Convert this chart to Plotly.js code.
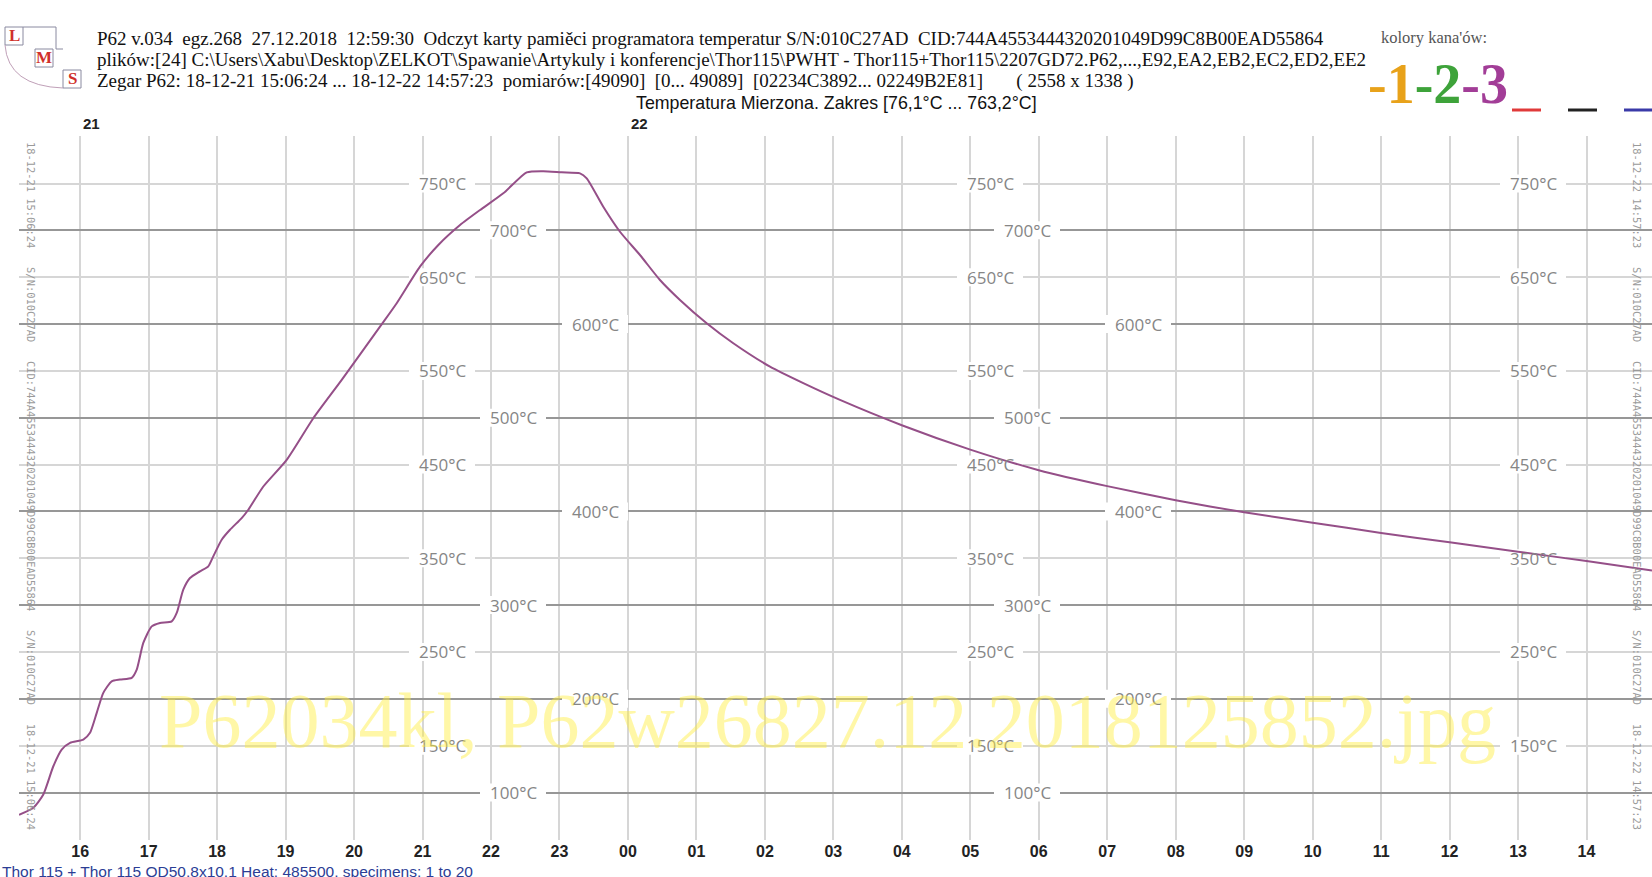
<!DOCTYPE html>
<html><head><meta charset="utf-8">
<script src="https://cdn.plot.ly/plotly-3.0.1.min.js"></script>
<style>html,body{margin:0;padding:0;background:#fff;overflow:hidden}#chart{width:1652px;height:877px}</style>
</head><body><div id="chart"></div>
<script>
// ---- data (hours since 18-12-21 00:00, temperature °C) ----
const timeH = [15.107,15.316,15.462,15.608,15.730,15.852,16.046,16.144,16.242,16.338,16.461,16.582,16.753,16.826,16.922,17.045,17.166,17.337,17.410,17.506,17.604,17.750,17.871,17.944,18.067,18.188,18.359,18.456,18.675,19.016,19.405,19.820,20.379,20.623,20.963,21.231,21.548,21.840,22.180,22.522,22.764,23.033,23.300,23.398,23.640,23.884,24.176,24.468,24.760,25.150,25.539,26.075,26.561,27.097,28.0,29.0,30.0,31.0,32.0,33.0,34.0,35.0,36.0,37.0,38.0,38.956];
const tempC = [76.1,83.7,97.9,128.0,145.8,153.0,156.5,163.7,185.0,206.3,218.7,220.5,222.3,231.1,259.6,277.3,280.9,282.6,291.6,316.5,328.9,336.0,341.3,352.0,369.8,380.4,392.9,401.8,426.6,455.1,499.5,540.4,597.2,622.2,661.2,684.4,705.7,721.7,739.5,761.9,763.2,761.9,760.8,755.5,725.2,698.5,673.7,647.0,625.7,600.8,579.5,554.5,536.9,519.0,492,466,444,427,412,399,388,377,367,357,347,337];
const hourVals = [16,17,18,19,20,21,22,23,24,25,26,27,28,29,30,31,32,33,34,35,36,37,38];
const hourLabels = ['16','17','18','19','20','21','22','23','00','01','02','03','04','05','06','07','08','09','10','11','12','13','14'];
const dayVals = [16,24];
const dayLabels = ['21','22'];
const labelTemps = [750,700,650,600,550,500,450,400,350,300,250,200,150,100];
const headerLines = [
 'P62 v.034  egz.268  27.12.2018  12:59:30  Odczyt karty pamiěci programatora temperatur S/N:010C27AD  CID:744A4553444320201049D99C8B00EAD55864',
 'plików:[24] C:\\Users\\Xabu\\Desktop\\ZELKOT\\Spawanie\\Artykuly i konferencje\\Thor115\\PWHT - Thor115+Thor115\\2207GD72.P62,...,E92,EA2,EB2,EC2,ED2,EE2',
 'Zegar P62: 18-12-21 15:06:24 ... 18-12-22 14:57:23  pomiarów:[49090]  [0... 49089]  [02234C3892... 02249B2E81]       ( 2558 x 1338 )'
];
const subTitle = 'Temperatura Mierzona. Zakres [76,1°C ... 763,2°C]';
const footer = 'Thor 115 + Thor 115 OD50,8x10,1 Heat: 485500, specimens: 1 to 20';
const watermark = 'P62034kl, P62w26827.12.2018125852.jpg';
const sideLeft = '18-12-21 15:06:24   S/N:010C27AD   CID:744A4553444320201049D99C8B00EAD55864   S/N:010C27AD   18-12-21 15:06:24';
const sideRight = '18-12-22 14:57:23   S/N:010C27AD   CID:744A4553444320201049D99C8B00EAD55864   S/N:010C27AD   18-12-22 14:57:23';
const channelLabels = ['-1','-2','-3'];
const channelColors = ['#e8a21a','#3ea33a','#a23d97'];
const lineColors = ['#e03a3a','#222222','#3a3aa8'];

// ---- geometry helpers ----
const W=1652,H=877,ML=19,MR=0,MT=136,MB=37;
const PW=W-ML-MR, PH=H-MT-MB;
const X0=15.1067, X1=38.9564;
const px=p=>(p-ML)/PW, py=p=>(H-MB-p)/PH;
const hx=p=>X0+(p-ML)/PW*(X1-X0);

function labelCols(t){
  if (t%100===50) return [442,990,1533];
  if ((t/100)%2===1) return [513,1027];
  return [595,1138];
}

const annotations=[], shapes=[];
const gridFont={family:'Open Sans, Noto Sans, sans-serif',size:17,color:'#868686'};
labelTemps.forEach(t=>{
  labelCols(t).forEach(c=>{
    const xv=hx(c);
    shapes.push({type:'rect',layer:'between',xref:'x',yref:'y',xsizemode:'pixel',ysizemode:'pixel',
      xanchor:xv,yanchor:t,x0:-33,x1:33,y0:-9,y1:9,fillcolor:'#ffffff',line:{width:0}});
    annotations.push({xref:'x',yref:'y',x:xv,y:t,text:t+'°C',showarrow:false,font:gridFont,xanchor:'center',yanchor:'middle'});
  });
});
dayVals.forEach((d,i)=>annotations.push({xref:'x',yref:'paper',x:d,y:py(124),text:dayLabels[i],showarrow:false,
  xanchor:'left',yanchor:'middle',xshift:1,font:{family:'Liberation Sans, Arial',size:15,color:'#222',weight:'bold'}}));
headerLines.forEach((s,i)=>annotations.push({xref:'paper',yref:'paper',x:px(95),y:py(38+i*21.5),text:s,showarrow:false,
  xanchor:'left',yanchor:'middle',font:{family:'Liberation Serif, Times New Roman, serif',size:19,color:'#111'}}));
annotations.push({xref:'paper',yref:'paper',x:px(837),y:py(103),text:subTitle,showarrow:false,xanchor:'center',yanchor:'middle',
  font:{family:'Liberation Sans, Arial',size:17.8,color:'#111'}});
annotations.push({xref:'paper',yref:'paper',x:px(1379),y:py(37),text:'kolory kana\'ów:',showarrow:false,xanchor:'left',yanchor:'middle',
  font:{family:'Liberation Serif, serif',size:16.5,color:'#555'}});
annotations.push({xref:'paper',yref:'paper',x:px(1366),y:py(84),showarrow:false,xanchor:'left',yanchor:'middle',
  text:channelLabels.map((s,i)=>'<span style="color:'+channelColors[i]+'">'+s+'</span>').join(''),
  font:{family:'Liberation Serif, serif',size:56,color:'#000',weight:'bold'}});
lineColors.forEach((c,i)=>shapes.push({type:'line',xref:'paper',yref:'paper',x0:px(1512+i*56),x1:px(1541+i*56),y0:py(110),y1:py(110),line:{color:c,width:3}}));
annotations.push({xref:'paper',yref:'paper',x:px(0),y:py(871),text:footer,showarrow:false,xanchor:'left',yanchor:'middle',
  font:{family:'Liberation Sans, Arial',size:15.5,color:'#2b3d95'}});
annotations.push({xref:'paper',yref:'paper',x:px(827),y:py(720),text:watermark,showarrow:false,xanchor:'center',yanchor:'middle',
  font:{family:'Liberation Serif, serif',size:78,color:'rgba(255,238,60,0.45)'}});
annotations.push({xref:'paper',yref:'paper',x:px(23),y:py(486),text:sideLeft,showarrow:false,textangle:90,
  font:{family:'DejaVu Sans Mono, monospace',size:10.4,color:'#9a9a9a'}});
annotations.push({xref:'paper',yref:'paper',x:px(1645),y:py(486),text:sideRight,showarrow:false,textangle:90,
  font:{family:'DejaVu Sans Mono, monospace',size:10.4,color:'#9a9a9a'}});
// LMS logo
[['L',14,36],['M',44,58],['S',72,79]].forEach(([ch,cx,cy])=>{
  shapes.push({type:'rect',xref:'paper',yref:'paper',x0:px(cx-9),x1:px(cx+9),y0:py(cy-9),y1:py(cy+9),line:{color:'#8a8aa0',width:1}});
  annotations.push({xref:'paper',yref:'paper',x:px(cx),y:py(cy),text:ch,showarrow:false,xanchor:'center',yanchor:'middle',
    font:{family:'Liberation Serif, serif',size:17,color:'#d0302a',weight:'bold'}});
});
shapes.push({type:'path',xref:'paper',yref:'paper',line:{color:'#8a8aa0',width:1},
  path:'M '+px(23)+' '+py(27)+' L '+px(56)+' '+py(27)+' L '+px(56)+' '+py(49)+' L '+px(63)+' '+py(49)});
shapes.push({type:'path',xref:'paper',yref:'paper',line:{color:'#c0a0b8',width:1},
  path:'M '+px(5)+' '+py(45)+' Q '+px(8)+' '+py(86)+' '+px(63)+' '+py(88)});

const trace={x:timeH,y:tempC,type:'scatter',mode:'lines',line:{color:'#954f88',width:2,shape:'spline',smoothing:0.6},hoverinfo:'skip'};

const layout={width:W,height:H,margin:{l:ML,r:MR,t:MT,b:MB,pad:0},paper_bgcolor:'#fff',plot_bgcolor:'#fff',showlegend:false,
  xaxis:{range:[X0,X1],tickmode:'array',tickvals:hourVals,ticktext:hourLabels,showgrid:true,gridcolor:'#d6d6d6',gridwidth:2,
    zeroline:false,showline:false,ticks:'',tickfont:{family:'Liberation Sans, Arial',size:16,color:'#222',weight:'bold'}},
  yaxis:{range:[49.3,800.7],tick0:0,dtick:100,showgrid:true,gridcolor:'#979797',gridwidth:2,showticklabels:false,zeroline:false,ticks:'',
    minor:{tick0:0,dtick:50,showgrid:true,gridcolor:'#d6d6d6',gridwidth:2}},
  annotations:annotations,shapes:shapes};
Plotly.newPlot('chart',[trace],layout,{displayModeBar:false,staticPlot:true});
</script></body></html>
